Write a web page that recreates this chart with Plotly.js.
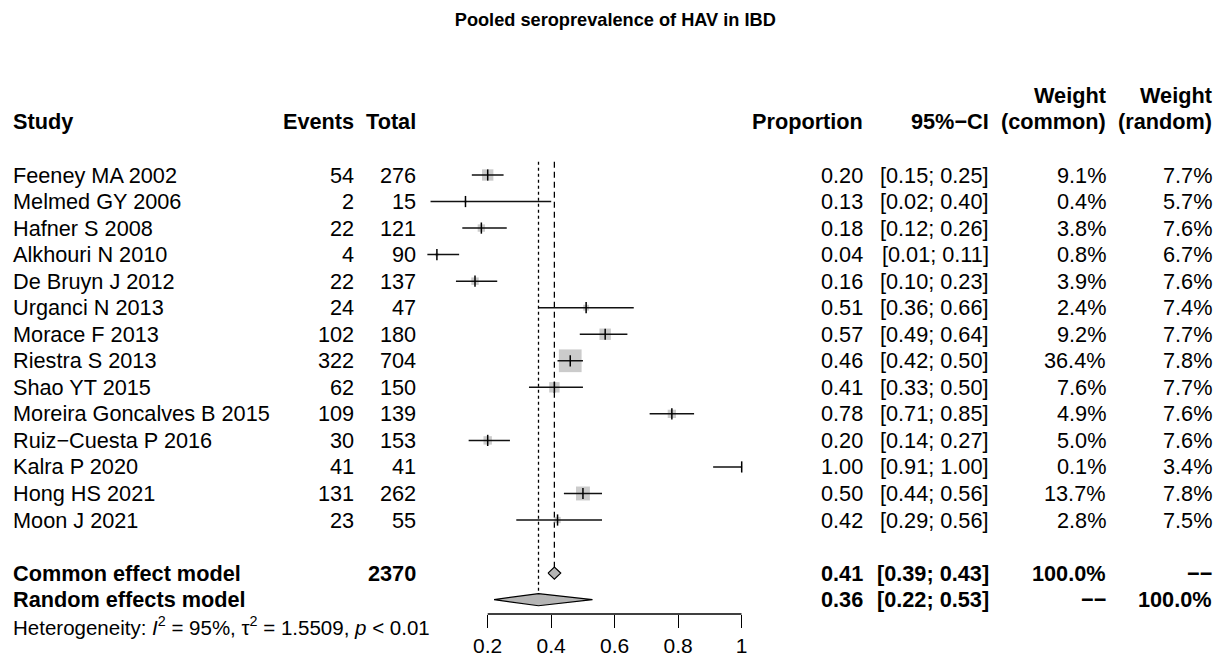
<!DOCTYPE html>
<html>
<head>
<meta charset="utf-8">
<script src="https://cdn.plot.ly/plotly-3.0.1.min.js"></script>
<style>html,body{margin:0;padding:0;background:#fff;}#chart{width:1216px;height:664px;}</style>
</head>
<body>
<div id="chart"></div>
<script>
// ---------- data ----------
const studies = ["Feeney MA 2002","Melmed GY 2006","Hafner S 2008","Alkhouri N 2010","De Bruyn J 2012",
  "Urganci N 2013","Morace F 2013","Riestra S 2013","Shao YT 2015","Moreira Goncalves B 2015",
  "Ruiz\u2212Cuesta P 2016","Kalra P 2020","Hong HS 2021","Moon J 2021"];
const events = [54,2,22,4,22,24,102,322,62,109,30,41,131,23];
const totals = [276,15,121,90,137,47,180,704,150,139,153,41,262,55];
const proportion = [0.20,0.13,0.18,0.04,0.16,0.51,0.57,0.46,0.41,0.78,0.20,1.00,0.50,0.42];
const ciLower = [0.15,0.02,0.12,0.01,0.10,0.36,0.49,0.42,0.33,0.71,0.14,0.91,0.44,0.29];
const ciUpper = [0.25,0.40,0.26,0.11,0.23,0.66,0.64,0.50,0.50,0.85,0.27,1.00,0.56,0.56];
const weightCommon = [9.1,0.4,3.8,0.8,3.9,2.4,9.2,36.4,7.6,4.9,5.0,0.1,13.7,2.8];
const weightRandom = [7.7,5.7,7.6,6.7,7.6,7.4,7.7,7.8,7.7,7.6,7.6,3.4,7.8,7.5];

const modelNames = ["Common effect model","Random effects model"];
const modelTotal = [2370, null];
const modelEst = [0.41, 0.36];
const modelLower = [0.39, 0.22];
const modelUpper = [0.43, 0.53];
const modelWCommon = ["100.0%","\u2212\u2212"];
const modelWRandom = ["\u2212\u2212","100.0%"];
const hetText = "Heterogeneity: <i>I</i><sup>2</sup> = 95%, \u03c4<sup>2</sup> = 1.5509, <i>p</i> &lt; 0.01";
const tickVals = [0.2,0.4,0.6,0.8,1];
const tickText = ["0.2","0.4","0.6","0.8","1"];
const titleText = "Pooled seroprevalence of HAV in IBD";

// ---------- layout helpers ----------
const W = 1216, H = 664;
const FONT = "Liberation Sans, Arial, Helvetica, sans-serif";
const FS = 21.7;
const rowPx = 26.54, row0Px = 175;
const yTop = row0Px / rowPx, yBot = -(H - row0Px) / rowPx;
const px = p => p / W;
const axisYPaper = 1 - 614 / H;

const colStudy = 11, colEvents = 356, colTotal = 418, colProp = 865, colCI = 991, colWC = 1108, colWR = 1214;

const ann = [];
function txt(x, y, s, anchor, bold, size) {
  ann.push({x: px(x), xref: 'paper', y: y, yref: 'y', text: s, showarrow: false,
    xanchor: anchor, yanchor: 'middle',
    font: {family: FONT, size: size || FS, color: '#000', weight: bold ? 'bold' : 'normal'}});
}
// headers
txt(colStudy, 2, "Study", 'left', true);
txt(colEvents, 2, "Events", 'right', true);
txt(colTotal, 2, "Total", 'right', true);
txt(colProp, 2, "Proportion", 'right', true);
txt(colCI, 2, "95%\u2212CI", 'right', true);
txt(colWC, 2, "(common)", 'right', true);
txt(colWR, 2, "(random)", 'right', true);
txt(colWC, 3, "Weight", 'right', true);
txt(colWR, 3, "Weight", 'right', true);

// study rows
const f2 = v => v.toFixed(2);
studies.forEach((s, i) => {
  const y = -i;
  txt(colStudy, y, s, 'left', false);
  txt(colEvents, y, String(events[i]), 'right', false);
  txt(colTotal, y, String(totals[i]), 'right', false);
  txt(colProp, y, f2(proportion[i]), 'right', false);
  txt(colCI, y, "[" + f2(ciLower[i]) + "; " + f2(ciUpper[i]) + "]", 'right', false);
  txt(colWC, y, weightCommon[i].toFixed(1) + "%", 'right', false);
  txt(colWR, y, weightRandom[i].toFixed(1) + "%", 'right', false);
});
// model rows
const modelY = [-15, -16];
modelNames.forEach((s, k) => {
  const y = modelY[k];
  txt(colStudy, y, s, 'left', true);
  if (modelTotal[k] !== null) txt(colTotal, y, String(modelTotal[k]), 'right', true);
  txt(colProp, y, f2(modelEst[k]), 'right', true);
  txt(colCI, y, "[" + f2(modelLower[k]) + "; " + f2(modelUpper[k]) + "]", 'right', true);
  txt(colWC, y, modelWCommon[k], 'right', true);
  txt(colWR, y, modelWRandom[k], 'right', true);
});
txt(colStudy, -17, hetText, 'left', false, 20.5);

// ---------- traces ----------
const traces = [];
const dh = 0.23;
// reference lines
traces.push({x: [modelEst[1], modelEst[1]], y: [0.5, modelY[1] + dh], mode: 'lines',
  line: {color: '#000', width: 1.3, dash: 'dot'}, hoverinfo: 'skip'});
traces.push({x: [modelEst[0], modelEst[0]], y: [0.5, modelY[0] + dh], mode: 'lines',
  line: {color: '#000', width: 1.3, dash: '6px,4px'}, hoverinfo: 'skip'});
// squares
const maxW = Math.max(...weightCommon);
traces.push({x: proportion, y: studies.map((s, i) => -i), mode: 'markers',
  marker: {symbol: 'square', color: '#b5b5b5', size: weightCommon.map(w => 22.7 * Math.sqrt(w / maxW)), line: {width: 0}},
  hoverinfo: 'skip', cliponaxis: false});
// CI lines
const cx = [], cy = [];
studies.forEach((s, i) => { cx.push(ciLower[i], ciUpper[i], null); cy.push(-i, -i, null); });
traces.push({x: cx, y: cy, mode: 'lines', line: {color: '#111', width: 1.5}, hoverinfo: 'skip'});
// estimate ticks
traces.push({x: proportion, y: studies.map((s, i) => -i), mode: 'markers',
  marker: {symbol: 'line-ns-open', size: 8, color: '#000', line: {color: '#000', width: 1.5}},
  hoverinfo: 'skip', cliponaxis: false});
// diamonds
modelEst.forEach((e, k) => {
  const y = modelY[k];
  traces.push({x: [modelLower[k], e, modelUpper[k], e, modelLower[k]],
    y: [y, y + dh, y, y - dh, y], mode: 'lines', fill: 'toself', fillcolor: '#b5b5b5',
    line: {color: '#000', width: 1.2}, hoverinfo: 'skip'});
});

const layout = {
  width: W, height: H,
  margin: {l: 0, r: 0, t: 0, b: 0, pad: 0},
  paper_bgcolor: '#fff', plot_bgcolor: '#fff',
  showlegend: false,
  title: {text: titleText, x: 615.3 / W, xanchor: 'center', y: 1 - 20 / H, yanchor: 'middle',
    font: {family: FONT, size: 18.2, color: '#000', weight: 'bold'}},
  xaxis: {domain: [px(424.2), px(741.7)], range: [0, 1], anchor: 'free', position: axisYPaper,
    showgrid: false, zeroline: false, showline: false,
    tickmode: 'array', tickvals: tickVals, ticktext: tickText,
    ticks: 'outside', ticklen: 13, tickwidth: 1.3, tickcolor: '#000',
    tickfont: {family: FONT, size: 21, color: '#000'}, fixedrange: true},
  yaxis: {domain: [0, 1], range: [yBot, yTop], visible: false, fixedrange: true},
  shapes: [{type: 'line', xref: 'x', yref: 'paper', x0: Math.min(...tickVals), x1: Math.max(...tickVals),
    y0: axisYPaper, y1: axisYPaper, line: {color: '#000', width: 1.3}}],
  annotations: ann
};

Plotly.newPlot('chart', traces, layout, {displayModeBar: false, staticPlot: true});
</script>
</body>
</html>
